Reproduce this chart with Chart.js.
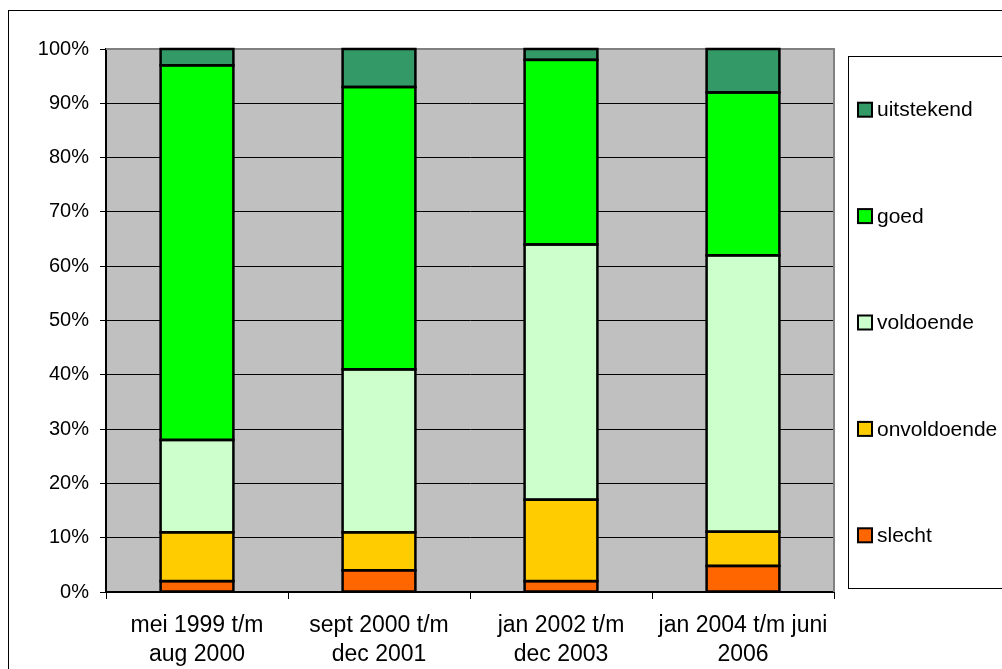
<!DOCTYPE html>
<html>
<head>
<meta charset="utf-8">
<script src="https://cdn.jsdelivr.net/npm/chart.js@4/dist/chart.umd.min.js"></script>
<style>
  html, body { margin: 0; padding: 0; background: #fff; }
  #wrap { width: 1002px; height: 669px; position: relative; }
</style>
</head>
<body>
<div id="wrap"><canvas id="c" width="1002" height="669"></canvas></div>
<script>
// Periods (two-line axis labels)
const categories = [
  ['mei 1999 t/m', 'aug 2000'],
  ['sept 2000 t/m', 'dec 2001'],
  ['jan 2002 t/m', 'dec 2003'],
  ['jan 2004 t/m juni', '2006']
];

// Share per rating, in percent (stacked bottom to top)
const slecht      = [2, 4, 2, 4.8];
const onvoldoende = [9, 7, 15, 6.3];
const voldoende   = [17, 30, 47, 50.9];
const goed        = [69, 52, 34, 30];
const uitstekend  = [3, 7, 2, 8];

const seriesNames = ['slecht', 'onvoldoende', 'voldoende', 'goed', 'uitstekend'];
const seriesColors = ['#FF6600', '#FFCC00', '#CCFFCC', '#00FF00', '#339966'];
const seriesValues = [slecht, onvoldoende, voldoende, goed, uitstekend];

const yTicks = [0, 10, 20, 30, 40, 50, 60, 70, 80, 90, 100];

const FONT = "'Liberation Sans', Arial, sans-serif";
Chart.defaults.font.family = FONT;
Chart.defaults.font.size = 20;
Chart.defaults.color = '#000';

// Grey plot background, outer frame and plot border
const frame = {
  id: 'frame',
  beforeDraw(chart) {
    const { ctx, chartArea: a } = chart;
    ctx.save();
    ctx.fillStyle = '#fff';
    ctx.fillRect(0, 0, chart.width, chart.height);
    ctx.strokeStyle = '#000';
    ctx.lineWidth = 1;
    ctx.strokeRect(8.5, 10.5, chart.width + 10, chart.height + 10);
    ctx.fillStyle = '#C0C0C0';
    ctx.fillRect(a.left, a.top, a.right - a.left, a.bottom - a.top);
    ctx.restore();
  },
  beforeDatasetsDraw(chart) {
    const { ctx, chartArea: a } = chart;
    ctx.save();
    ctx.strokeStyle = '#808080';
    ctx.lineWidth = 2;
    ctx.beginPath();
    ctx.moveTo(a.left, a.top);
    ctx.lineTo(a.right, a.top);
    ctx.lineTo(a.right, a.bottom);
    ctx.stroke();
    ctx.restore();
  }
};

// Outline every stacked segment with a shared black edge
const segmentOutline = {
  id: 'segmentOutline',
  afterDatasetsDraw(chart) {
    const { ctx } = chart;
    ctx.save();
    ctx.strokeStyle = '#000';
    ctx.lineWidth = 2.5;
    chart.data.datasets.forEach((d, i) => {
      chart.getDatasetMeta(i).data.forEach(bar => {
        const { x, y, base, width } = bar.getProps(['x', 'y', 'base', 'width'], true);
        const top = Math.min(y, base), h = Math.abs(base - y);
        ctx.strokeRect(x - width / 2, top, width, h);
      });
    });
    ctx.restore();
  }
};

// Boxed legend on the right, top entry = top of the stack
const boxLegend = {
  id: 'boxLegend',
  afterDraw(chart) {
    const { ctx } = chart;
    const x0 = 848.5, y0 = 56.5, y1 = 588.5;
    ctx.save();
    ctx.fillStyle = '#fff';
    ctx.fillRect(x0, y0, chart.width, y1 - y0);
    ctx.strokeStyle = '#000';
    ctx.lineWidth = 1;
    ctx.strokeRect(x0, y0, chart.width, y1 - y0);
    const ds = chart.data.datasets.slice().reverse();
    const step = (y1 - y0) / ds.length;
    ctx.font = '21px ' + FONT;
    ctx.textBaseline = 'middle';
    ds.forEach((d, i) => {
      const cy = y0 + step * (i + 0.5);
      ctx.fillStyle = d.backgroundColor;
      ctx.fillRect(858, cy - 7, 14, 14);
      ctx.strokeStyle = '#000';
      ctx.lineWidth = 2;
      ctx.strokeRect(858, cy - 7, 14, 14);
      ctx.fillStyle = '#000';
      ctx.fillText(d.label, 877, cy + 1);
    });
    ctx.restore();
  }
};

new Chart(document.getElementById('c'), {
  type: 'bar',
  data: {
    labels: categories,
    datasets: seriesNames.map((name, i) => ({
      label: name,
      data: seriesValues[i],
      backgroundColor: seriesColors[i],
      borderWidth: 0,
      barPercentage: 0.4,
      categoryPercentage: 1
    }))
  },
  options: {
    responsive: false,
    animation: false,
    devicePixelRatio: 1,
    layout: { padding: { left: 0, top: 49, right: 168, bottom: 0 } },
    plugins: { legend: { display: false }, tooltip: { enabled: false } },
    scales: {
      x: {
        stacked: true,
        afterFit(s) { s.height = 77; },
        grid: {
          offset: true,
          drawOnChartArea: false,
          drawTicks: true,
          tickLength: 7,
          color: '#000',
          lineWidth: 1
        },
        border: { color: '#000', width: 2 },
        ticks: { autoSkip: false, maxRotation: 0, padding: 12, font: { size: 23, lineHeight: 1.27 } }
      },
      y: {
        stacked: true,
        min: 0,
        max: 100,
        afterFit(s) { s.width = 106; },
        afterBuildTicks(s) { s.ticks = yTicks.map(v => ({ value: v })); },
        grid: { color: '#000', lineWidth: 1, tickLength: 6 },
        border: { color: '#000', width: 2 },
        ticks: { padding: 11, callback: v => v + '%' }
      }
    }
  },
  plugins: [frame, segmentOutline, boxLegend]
});
</script>
</body>
</html>
